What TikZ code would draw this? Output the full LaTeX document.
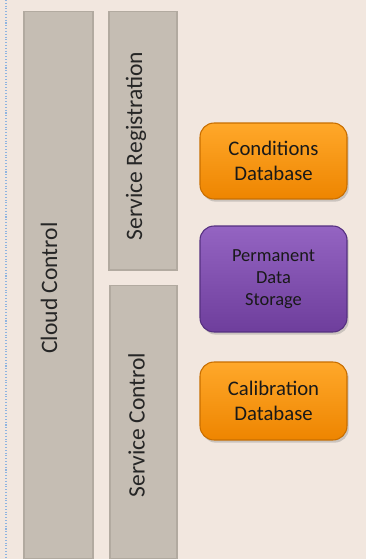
\documentclass[tikz,border=0pt]{standalone}
\usepackage{fontspec}
\setmainfont{Carlito}
\usetikzlibrary{shadows}
\definecolor{pagebg}{HTML}{F2E7DF}
\definecolor{colgrey}{HTML}{C5BDB3}
\definecolor{colline}{HTML}{B2AAA0}
\definecolor{dbtop}{HTML}{FFA82A}
\definecolor{dbbot}{HTML}{EE8500}
\definecolor{dbline}{HTML}{C86E00}
\definecolor{pstop}{HTML}{9464C2}
\definecolor{psbot}{HTML}{6E3E9C}
\definecolor{psline}{HTML}{553080}
\definecolor{guideblue}{HTML}{8FB4E0}

\tikzset{
  colbox/.style={draw=colline, fill=colgrey, line width=0.6pt,
    rotate=90, inner sep=0pt},
  coltext/.style={rotate=90, inner sep=0pt,
    font=\fontsize{13.4}{15}\selectfont, text=black!85},
  dbbox/.style={draw=dbline, top color=dbtop, bottom color=dbbot,
    rounded corners=8pt, line width=0.6pt, align=center,
    minimum width=2.94cm, drop shadow={opacity=0.35, shadow xshift=1pt, shadow yshift=-1.5pt},
    font=\fontsize{11.8}{14.2}\selectfont, text=black!90},
  storebox/.style={dbbox, draw=psline, top color=pstop, bottom color=psbot,
    font=\fontsize{10.5}{12.5}\selectfont}
}

\begin{document}
\begin{tikzpicture}[x=0.02cm, y=-0.02cm]
  \fill[pagebg] (0,0) rectangle (366,559);
  \useasboundingbox (0,0) rectangle (366,559);
  \draw[guideblue, densely dotted, line width=0.6pt] (6,0) -- (6,559);

  % control columns
  \node[colbox, minimum width=10.96cm, minimum height=1.38cm] (cloud) at (58.5,285) {};
  \node[colbox, minimum width=5.18cm, minimum height=1.36cm] (registration) at (143,140.5) {};
  \node[colbox, minimum width=5.48cm, minimum height=1.34cm] (servicectl) at (143.5,422) {};
  \node[coltext] (cloudlabel) at (49,288) {Cloud Control};
  \node[coltext] (registrationlabel) at (136,146) {Service Registration};
  \node[coltext] (servicectllabel) at (136.5,425) {Service Control};

  % data stores
  \node[dbbox, minimum height=1.52cm] (conditions) at (273.5,161) {Conditions\\Database};
  \node[storebox, minimum height=2.12cm] (storage) at (273.5,279) {Permanent\\Data\\Storage};
  \node[dbbox, minimum height=1.56cm] (calibration) at (273.5,401) {Calibration\\Database};
\end{tikzpicture}
\end{document}
